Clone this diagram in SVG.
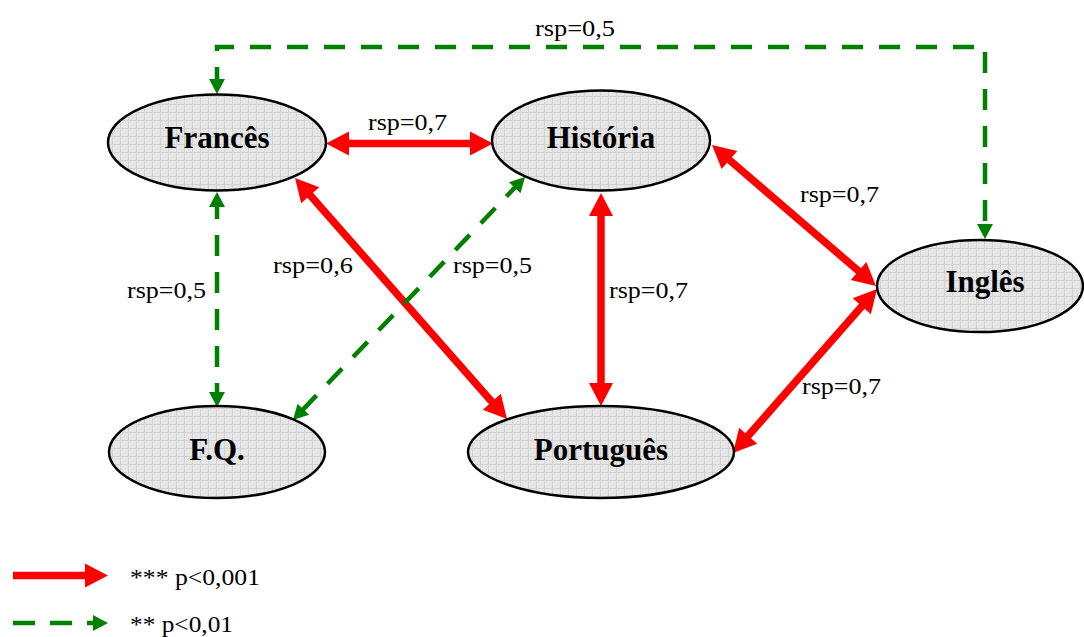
<svg xmlns="http://www.w3.org/2000/svg" width="1084" height="637" viewBox="0 0 1084 637">
  <style>
    .node ellipse { fill: url(#grid); stroke: #000; stroke-width: 2.5; }
    .title { font-family: "Liberation Serif", "Times New Roman", serif; font-weight: bold; font-size: 31px; text-anchor: middle; fill: #000; }
    .lbl { font-family: "Liberation Serif", "Times New Roman", serif; font-size: 24px; fill: #000; }
    .strong { stroke: #ff0000; stroke-width: 7.5; fill: none; marker-start: url(#redHead); marker-end: url(#redHead); }
    .weak { stroke: #008000; stroke-width: 4.5; fill: none; stroke-dasharray: 21 16; marker-start: url(#greenHead); marker-end: url(#greenHead); }
  </style>
  <defs>
    <pattern id="grid" width="8" height="8" patternUnits="userSpaceOnUse">
      <rect width="8" height="8" fill="#e6e6e6"/>
      <path d="M0,0.5 H8 M0.5,0 V8" stroke="#d2d2d2" stroke-width="1"/>
    </pattern>
    <marker id="redHead" markerUnits="userSpaceOnUse" markerWidth="23" markerHeight="24" refX="13" refY="12" orient="auto-start-reverse" overflow="visible">
      <path d="M0,0 L23,12 L0,24 z" fill="#ff0000"/>
    </marker>
    <marker id="greenHead" markerUnits="userSpaceOnUse" markerWidth="15" markerHeight="16" refX="9" refY="8" orient="auto-start-reverse" overflow="visible">
      <path d="M0,0 L15,8 L0,16 z" fill="#008000"/>
    </marker>
    <marker id="redEnd" markerUnits="userSpaceOnUse" markerWidth="23" markerHeight="24" refX="13" refY="12" orient="auto" overflow="visible">
      <path d="M0,0 L23,12 L0,24 z" fill="#ff0000"/>
    </marker>
    <marker id="greenEnd" markerUnits="userSpaceOnUse" markerWidth="15" markerHeight="16" refX="9" refY="8" orient="auto" overflow="visible">
      <path d="M0,0 L15,8 L0,16 z" fill="#008000"/>
    </marker>
  </defs>
  <rect width="1084" height="637" fill="#ffffff"/>

  <g id="connectors">
    <line class="strong" x1="336" y1="143.5" x2="483" y2="143.5"/>
    <line class="strong" x1="301.6" y1="185.5" x2="500.4" y2="411.5"/>
    <line class="strong" x1="601" y1="203" x2="601" y2="396"/>
    <line class="strong" x1="719.6" y1="151.5" x2="868.4" y2="279.5"/>
    <line class="strong" x1="870.4" y1="296.5" x2="739.6" y2="445.5"/>
    <line class="weak" x1="217" y1="198" x2="217" y2="401"/>
    <line class="weak" x1="520.9" y1="181.3" x2="297.1" y2="415.7"/>
    <polyline class="weak" points="217,88 217,47 985,47 985,233"/>
  </g>

  <g id="labels">
    <text class="lbl" x="535" y="36" textLength="80" lengthAdjust="spacingAndGlyphs">rsp=0,5</text>
    <text class="lbl" x="368" y="130" textLength="79" lengthAdjust="spacingAndGlyphs">rsp=0,7</text>
    <text class="lbl" x="800" y="202" textLength="79" lengthAdjust="spacingAndGlyphs">rsp=0,7</text>
    <text class="lbl" x="273" y="273" textLength="80" lengthAdjust="spacingAndGlyphs">rsp=0,6</text>
    <text class="lbl" x="453" y="273" textLength="79" lengthAdjust="spacingAndGlyphs">rsp=0,5</text>
    <text class="lbl" x="609" y="298" textLength="79" lengthAdjust="spacingAndGlyphs">rsp=0,7</text>
    <text class="lbl" x="127" y="298" textLength="79" lengthAdjust="spacingAndGlyphs">rsp=0,5</text>
    <text class="lbl" x="802" y="394" textLength="79" lengthAdjust="spacingAndGlyphs">rsp=0,7</text>
  </g>

  <g id="node-frances" class="node">
    <ellipse cx="217" cy="142.5" rx="109" ry="48"/>
    <text class="title" x="217" y="148">Francês</text>
  </g>
  <g id="node-historia" class="node">
    <ellipse cx="601" cy="140.5" rx="109" ry="50"/>
    <text class="title" x="601" y="148">História</text>
  </g>
  <g id="node-ingles" class="node">
    <ellipse cx="980" cy="286" rx="103" ry="46"/>
    <text class="title" x="985" y="292">Inglês</text>
  </g>
  <g id="node-fq" class="node">
    <ellipse cx="217" cy="452" rx="108" ry="46"/>
    <text class="title" x="217" y="460">F.Q.</text>
  </g>
  <g id="node-portugues" class="node">
    <ellipse cx="601" cy="452" rx="133" ry="46"/>
    <text class="title" x="601" y="460">Português</text>
  </g>

  <g id="legend">
    <line x1="13" y1="575.5" x2="98" y2="575.5" stroke="#ff0000" stroke-width="7.5" marker-end="url(#redEnd)"/>
    <text class="lbl" x="130" y="585" textLength="130" lengthAdjust="spacingAndGlyphs">*** p&lt;0,001</text>
    <line x1="13" y1="623" x2="102" y2="623" stroke="#008000" stroke-width="4.5" stroke-dasharray="22 15" marker-end="url(#greenEnd)"/>
    <text class="lbl" x="130" y="632" textLength="103" lengthAdjust="spacingAndGlyphs">** p&lt;0,01</text>
  </g>
</svg>
